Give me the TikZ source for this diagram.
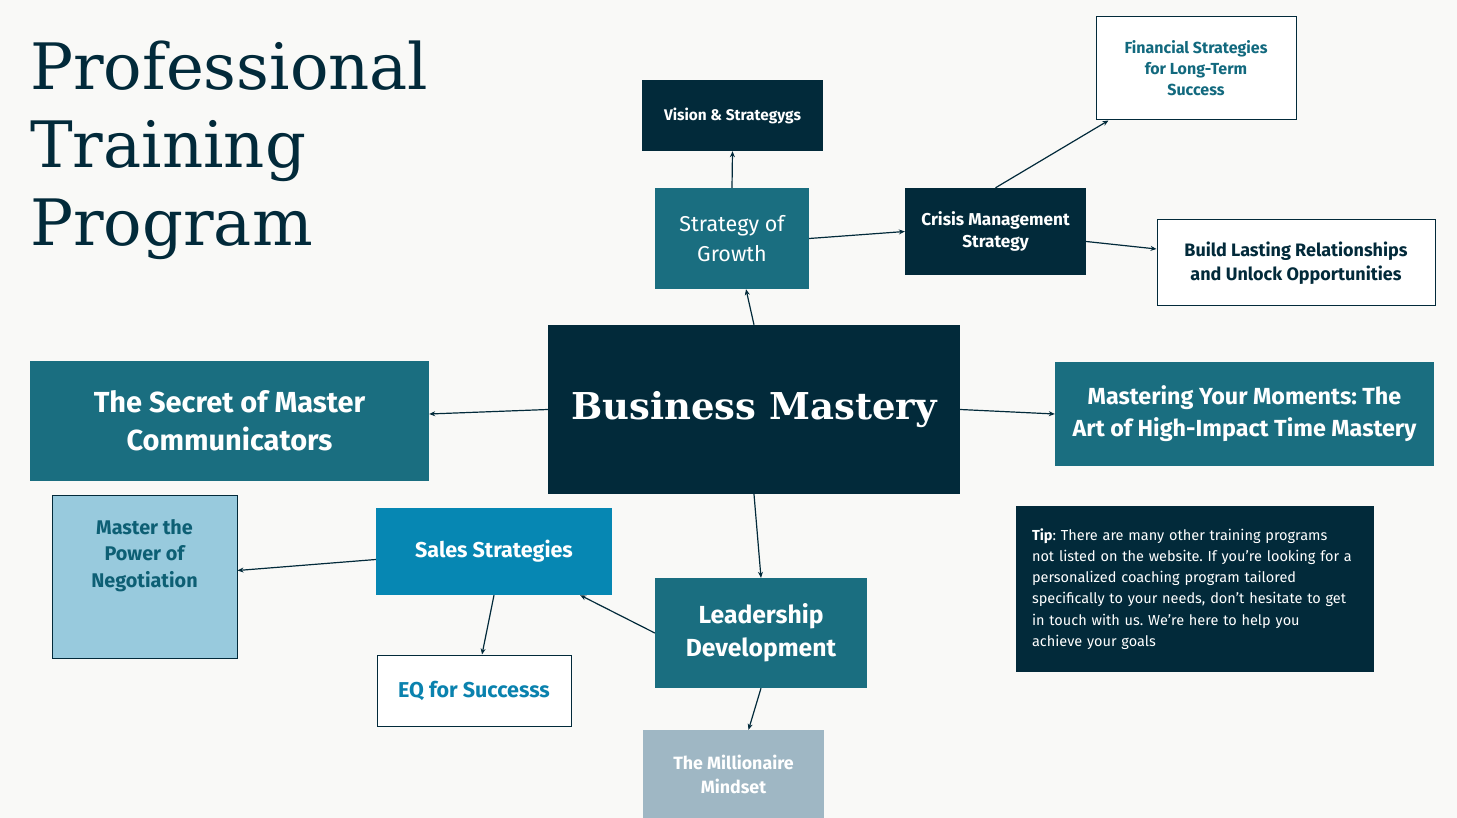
\documentclass[tikz,border=0pt]{standalone}
\usepackage{fontspec}
\setmainfont{Fira Sans}
\newfontfamily\ttlfont{DejaVu Serif}
\usetikzlibrary{arrows.meta}

\definecolor{pagebg}{HTML}{F9F9F7}
\definecolor{navy}{HTML}{022A3A}
\definecolor{tealbg}{HTML}{1A6E80}
\definecolor{salesblue}{HTML}{0687B3}
\definecolor{lightbg}{HTML}{98CADD}
\definecolor{greybg}{HTML}{9FB7C4}
\definecolor{tealtxt}{HTML}{12697E}
\definecolor{bluetxt}{HTML}{0A82AE}
\definecolor{negtxt}{HTML}{0D5F74}

\newcommand{\fsz}[2]{\fontsize{#1}{#2}\selectfont}

\tikzset{
  box/.style={rectangle, inner sep=0pt, align=center, font=\bfseries},
  navybox/.style={box, fill=navy, text=white},
  tealbox/.style={box, fill=tealbg, text=white},
  linebox/.style={box, fill=white, draw=navy, line width=1pt},
  arr/.style={-{Stealth[length=6pt,width=5pt]}, draw=navy, line width=1.2pt},
}

\begin{document}
\frenchspacing
\begin{tikzpicture}[x=1pt, y=-1pt]
  \fill[pagebg] (0,0) rectangle (1457,818);

  % title
  \node[anchor=north west, inner sep=0pt, align=left, text=navy,
    font=\ttlfont\fsz{64}{78}] (title) at (30,41)
    {Professional\\Training\\Program};

  % boxes
  \node[navybox, minimum width=412, minimum height=169,
    font=\ttlfont\bfseries\fsz{37}{46}] (bm) at (754,409.5) {Business Mastery};
  \node[navybox, minimum width=181, minimum height=71,
    font=\bfseries\fsz{15.4}{18}] (vision) at (732.5,115.5) {Vision \& Strategygs};
  \node[tealbox, minimum width=154, minimum height=101,
    font=\fsz{21.5}{30}] (sog) at (732,238.5) {Strategy of\\Growth};
  \node[navybox, minimum width=181, minimum height=87,
    font=\bfseries\fsz{17.2}{22}] (crisis) at (995.5,231.5) {Crisis Management\\Strategy};
  \node[linebox, text=tealtxt, minimum width=200, minimum height=103,
    font=\bfseries\fsz{16}{21}] (fin) at (1196,68.5)
    {Financial Strategies\\for Long-Term\\Success};
  \node[linebox, text=navy, minimum width=278, minimum height=86,
    font=\bfseries\fsz{18}{24}] (build) at (1296,263)
    {Build Lasting Relationships\\and Unlock Opportunities};
  \node[tealbox, minimum width=399, minimum height=120,
    font=\bfseries\fsz{29}{38}] (secret) at (229.5,421)
    {The Secret of Master\\Communicators};
  \node[tealbox, minimum width=379, minimum height=104,
    font=\bfseries\fsz{23.3}{32}] (mastering) at (1244.5,414)
    {Mastering Your Moments: The\\Art of High-Impact Time Mastery};
  \node[box, fill=lightbg, draw=navy, line width=1pt,
    minimum width=185, minimum height=163,
    label={[anchor=north, yshift=-21, align=center, text=negtxt,
      font=\bfseries\fsz{19.8}{26.5}]north:{Master the\\Power of\\Negotiation}}]
    (negot) at (144.5,576.5) {};
  \node[box, fill=salesblue, text=white, minimum width=236, minimum height=87,
    font=\bfseries\fsz{21.5}{24}] (sales) at (494,551.5) {Sales Strategies};
  \node[linebox, text=bluetxt, minimum width=194, minimum height=71,
    font=\bfseries\fsz{21.5}{24}] (eq) at (474,690.5) {EQ for Successs};
  \node[tealbox, minimum width=212, minimum height=110,
    font=\bfseries\fsz{24.7}{33}] (lead) at (761,633) {Leadership\\Development};
  \node[box, fill=greybg, text=white, minimum width=181, minimum height=88,
    font=\bfseries\fsz{17.8}{24}] (mill) at (733.5,774) {The Millionaire\\Mindset};

  % tip
  \node[navybox, minimum width=358, minimum height=166, text width=326,
    align=left, font=\fsz{14.5}{21.3}] (tip) at (1195,589)
    {\textbf{Tip}: There are many other training programs\\
     not listed on the website. If you're looking for a\\
     personalized coaching program tailored\\
     specifically to your needs, don't hesitate to get\\
     in touch with us. We're here to help you\\
     achieve your goals};

  % connectors
  \draw[arr] (sog.north) -- (vision.south);
  \draw[arr] (bm.north) -- ([xshift=14]sog.south);
  \draw[arr] (sog.east) -- (crisis.west);
  \draw[arr] (crisis.north) -- ([xshift=13]fin.south west);
  \draw[arr] ([yshift=-10]crisis.east) -- ([yshift=14]build.west);
  \draw[arr] (bm.west) -- ([yshift=7]secret.east);
  \draw[arr] (bm.east) -- (mastering.west);
  \draw[arr] (bm.south) -- (lead.north);
  \draw[arr] ([yshift=-8]sales.west) -- ([yshift=6]negot.east);
  \draw[arr] (sales.south) -- ([xshift=8]eq.north);
  \draw[arr] (lead.west) -- ([xshift=-32]sales.south east);
  \draw[arr] (lead.south) -- ([xshift=15]mill.north);
\end{tikzpicture}
\end{document}
